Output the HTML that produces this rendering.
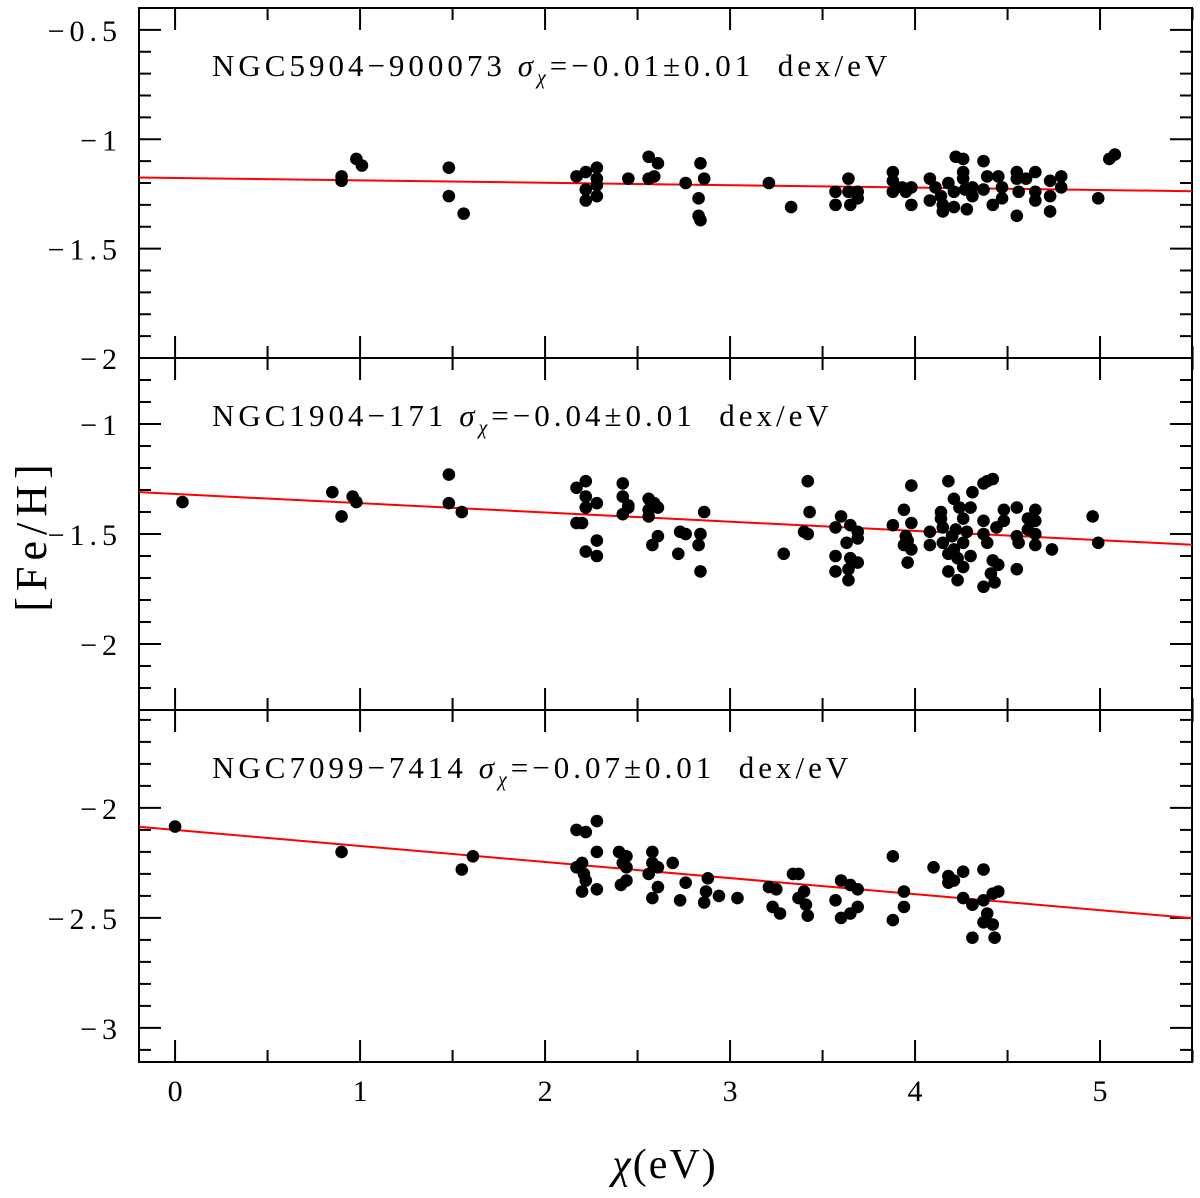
<!DOCTYPE html>
<html><head><meta charset="utf-8"><style>
body{margin:0;background:#fff}
svg text{font-family:"Liberation Serif",serif;fill:#000}
</style></head><body>
<svg id="chart" width="1200" height="1193" viewBox="0 0 1200 1193" xmlns="http://www.w3.org/2000/svg">
<g id="layer"></g>
</svg>
<script>
// Panel titles and fit lines
const panelNames = ["NGC5904-900073", "NGC1904-171", "NGC7099-7414"];
const panelSlopes = ["−0.01", "−0.04", "−0.07"];
const fitIntercepts = [-1.177, -1.318, -2.10];
const fitSlopes = [-0.011, -0.042, -0.073];
const yMajorTicks = [[-0.5,-1,-1.5,-2],[-1,-1.5,-2],[-2,-2.5,-3]];
const xTickLabels = [0,1,2,3,4,5];
// Data: chi (eV), [Fe/H]
const chi1 = [0.90,0.90,0.98,1.01,1.48,1.48,1.56,2.17,2.22,2.22,2.22,2.28,2.28,2.28,2.28,2.45,2.56,2.61,2.56,2.59,2.76,2.84,2.86,2.83,2.83,2.84,3.21,3.33,3.57,3.57,3.64,3.64,3.65,3.69,3.69,3.88,3.88,3.88,3.93,3.95,3.98,3.98,4.08,4.08,4.11,4.14,4.15,4.15,4.18,4.21,4.22,4.26,4.26,4.26,4.21,4.28,4.27,4.31,4.31,4.37,4.37,4.39,4.42,4.45,4.47,4.47,4.55,4.55,4.56,4.55,4.60,4.65,4.65,4.65,4.73,4.73,4.73,4.79,4.79,4.99,5.05,5.08];
const feh1 = [-1.17,-1.19,-1.09,-1.12,-1.13,-1.26,-1.34,-1.17,-1.15,-1.23,-1.28,-1.13,-1.18,-1.21,-1.26,-1.18,-1.08,-1.11,-1.18,-1.17,-1.20,-1.11,-1.18,-1.27,-1.35,-1.37,-1.20,-1.31,-1.24,-1.30,-1.18,-1.24,-1.30,-1.24,-1.27,-1.15,-1.19,-1.24,-1.22,-1.24,-1.22,-1.30,-1.18,-1.28,-1.22,-1.26,-1.33,-1.30,-1.20,-1.24,-1.08,-1.09,-1.15,-1.18,-1.31,-1.32,-1.23,-1.26,-1.22,-1.10,-1.23,-1.17,-1.30,-1.17,-1.22,-1.27,-1.15,-1.18,-1.24,-1.35,-1.18,-1.15,-1.24,-1.28,-1.19,-1.26,-1.33,-1.17,-1.22,-1.27,-1.09,-1.07];
const chi2 = [0.04,0.85,0.90,0.96,0.98,1.48,1.48,1.55,2.17,2.22,2.22,2.22,2.20,2.17,2.28,2.28,2.22,2.28,2.42,2.42,2.45,2.42,2.45,2.56,2.59,2.56,2.56,2.61,2.61,2.58,2.73,2.76,2.72,2.86,2.84,2.83,2.84,3.29,3.42,3.43,3.40,3.42,3.60,3.57,3.65,3.69,3.69,3.63,3.57,3.65,3.69,3.57,3.64,3.64,3.88,3.94,3.98,3.98,3.95,3.96,3.94,3.98,3.96,4.08,4.08,4.14,4.14,4.15,4.15,4.18,4.21,4.24,4.22,4.20,4.21,4.18,4.23,4.26,4.28,4.26,4.30,4.31,4.18,4.26,4.23,4.30,4.37,4.39,4.42,4.37,4.37,4.39,4.44,4.48,4.48,4.42,4.45,4.41,4.43,4.37,4.55,4.55,4.56,4.55,4.61,4.61,4.65,4.65,4.65,4.65,4.74,4.96,4.99];
const feh2 = [-1.355,-1.31,-1.42,-1.33,-1.355,-1.23,-1.36,-1.40,-1.29,-1.26,-1.33,-1.38,-1.45,-1.45,-1.36,-1.53,-1.58,-1.60,-1.27,-1.33,-1.37,-1.41,-1.38,-1.34,-1.36,-1.39,-1.42,-1.38,-1.51,-1.55,-1.49,-1.50,-1.59,-1.40,-1.50,-1.55,-1.67,-1.59,-1.26,-1.40,-1.49,-1.50,-1.42,-1.47,-1.46,-1.49,-1.52,-1.54,-1.60,-1.61,-1.63,-1.67,-1.66,-1.71,-1.46,-1.39,-1.28,-1.45,-1.51,-1.53,-1.55,-1.57,-1.63,-1.49,-1.55,-1.40,-1.43,-1.47,-1.54,-1.26,-1.34,-1.38,-1.48,-1.51,-1.57,-1.59,-1.61,-1.43,-1.49,-1.54,-1.38,-1.31,-1.67,-1.65,-1.71,-1.60,-1.27,-1.26,-1.25,-1.44,-1.50,-1.54,-1.47,-1.39,-1.44,-1.62,-1.64,-1.68,-1.72,-1.74,-1.38,-1.51,-1.54,-1.66,-1.43,-1.48,-1.39,-1.44,-1.50,-1.55,-1.57,-1.42,-1.54];
const chi3 = [0.00,0.90,1.55,1.61,2.17,2.22,2.28,2.28,2.20,2.17,2.21,2.22,2.20,2.28,2.40,2.44,2.42,2.44,2.44,2.41,2.58,2.58,2.61,2.56,2.69,2.61,2.58,2.76,2.73,2.88,2.87,2.86,2.94,3.04,3.21,3.25,3.23,3.27,3.34,3.37,3.40,3.37,3.41,3.42,3.57,3.60,3.65,3.69,3.69,3.65,3.60,3.88,3.94,3.94,3.88,4.10,4.18,4.21,4.18,4.26,4.26,4.31,4.37,4.37,4.42,4.45,4.39,4.37,4.42,4.31,4.43];
const feh3 = [-2.085,-2.20,-2.28,-2.22,-2.10,-2.11,-2.06,-2.20,-2.25,-2.27,-2.30,-2.33,-2.38,-2.37,-2.20,-2.22,-2.25,-2.27,-2.33,-2.35,-2.20,-2.25,-2.27,-2.30,-2.25,-2.36,-2.41,-2.34,-2.42,-2.32,-2.38,-2.43,-2.40,-2.41,-2.36,-2.37,-2.45,-2.48,-2.30,-2.30,-2.38,-2.41,-2.44,-2.49,-2.42,-2.33,-2.35,-2.37,-2.45,-2.48,-2.50,-2.22,-2.38,-2.45,-2.51,-2.27,-2.31,-2.33,-2.34,-2.29,-2.41,-2.44,-2.28,-2.42,-2.39,-2.38,-2.48,-2.52,-2.53,-2.59,-2.59];
const chiSets = [chi1, chi2, chi3];
const fehSets = [feh1, feh2, feh3];

const NS = "http://www.w3.org/2000/svg";
const L = 139, R = 1192;
const X0 = -0.195, X1 = 5.497;
const panels = [{top:8,bot:358,ymin:-2.0,ymax:-0.4},{top:358,bot:710,ymin:-2.3,ymax:-0.7},{top:710,bot:1062,ymin:-3.155,ymax:-1.555}];
const layer = document.getElementById('layer');
function xs(v){return L + (v - X0) / (X1 - X0) * (R - L);}
function mk(tag, attrs, parent){const e=document.createElementNS(NS,tag);for(const k in attrs)e.setAttribute(k,attrs[k]);(parent||layer).appendChild(e);return e;}

panels.forEach((p, i) => {
  const ys = v => p.bot - (v - p.ymin) / (p.ymax - p.ymin) * (p.bot - p.top);
  const g = mk('g', {});
  
  
  const fr = mk('rect', {x:L, y:p.top, width:R-L, height:p.bot-p.top, fill:'none', stroke:'#000', 'stroke-width':2}, g);
  
  
  for (let k = Math.ceil(p.ymin * 10 - 1e-6); k <= Math.floor(p.ymax * 10 + 1e-6); k++) {
    const v = k / 10, y = ys(v);
    const major = Math.abs(k % 5) === 0;
    const len = major ? 22 : 12;
    mk('line', {x1:L, y1:y, x2:L+len, y2:y, stroke:'#000', 'stroke-width':2}, g);
    mk('line', {x1:R, y1:y, x2:R-len, y2:y, stroke:'#000', 'stroke-width':2}, g);
  }
  yMajorTicks[i].forEach(v => {
    const t = mk('text', {x:122, y:ys(v)+11, 'text-anchor':'end', 'font-size':30, 'letter-spacing':5}, g);
    t.setAttribute('font-family', '"Liberation Sans", sans-serif');
    t.textContent = String(v).replace('-', '−');
    
    
  });
  for (let k = 0; k <= 11; k++) {
    const v = k / 2, x = xs(v);
    const len = k % 2 === 0 ? 22 : 12;
    mk('line', {x1:x, y1:p.bot, x2:x, y2:p.bot-len, stroke:'#000', 'stroke-width':2}, g);
    mk('line', {x1:x, y1:p.top, x2:x, y2:p.top+len, stroke:'#000', 'stroke-width':2}, g);
  }
  const fl = mk('line', {x1:L, y1:ys(fitIntercepts[i] + fitSlopes[i]*X0), x2:R, y2:ys(fitIntercepts[i] + fitSlopes[i]*X1), stroke:'#ff0000', 'stroke-width':2}, g);
  
  
  chiSets[i].forEach((c, j) => {
    const pt = mk('circle', {cx:xs(c), cy:ys(fehSets[i][j]), r:6.3, fill:'#000'}, g);
    
    
  });
  const lab = mk('text', {x:212, y:p.top+68, 'font-size':31, 'letter-spacing':4}, g);
  
  
  lab.innerHTML = panelNames[i].replace('-', '−') + '\u00a0<tspan font-style="italic">σ</tspan><tspan font-style="italic" font-size="20" dy="8">χ</tspan><tspan dy="-8">=' + panelSlopes[i] + '±0.01\u00a0\u00a0dex/eV</tspan>';
});
xTickLabels.forEach(v => {
  const t = mk('text', {x:xs(v), y:1101, 'text-anchor':'middle', 'font-size':30});
  t.setAttribute('font-family', '"Liberation Sans", sans-serif');
  t.textContent = v;
  
  
});
const xt = mk('text', {x:665, y:1178, 'text-anchor':'middle', 'font-size':42, 'letter-spacing':2});
xt.innerHTML = '<tspan font-style="italic">χ</tspan>(eV)';


const yt = mk('text', {x:0, y:0, 'text-anchor':'middle', 'font-size':44, 'letter-spacing':6, transform:'translate(46,535) rotate(-90)'});
yt.textContent = '[Fe/H]';


</script>
</body></html>
